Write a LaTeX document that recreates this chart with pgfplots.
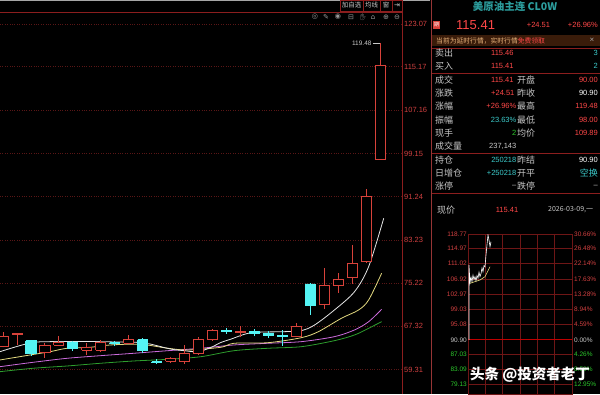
\documentclass[border=0pt]{standalone}
\usepackage{pgfplots}
\pgfplotsset{compat=1.18}
\usepackage{fontspec}
\setmainfont{Liberation Sans}
\newfontfamily\cjk{Noto Sans CJK SC}
\newfontfamily\sym{DejaVu Sans}
\newfontfamily\emoji{Noto Emoji}
\definecolor{gridred}{HTML}{5A1616}
\definecolor{axred}{HTML}{8C1E1E}
\definecolor{lblred}{HTML}{D04040}
\definecolor{upred}{HTML}{D8423A}
\definecolor{dncyan}{HTML}{54F4F4}
\definecolor{mawhite}{HTML}{E6E6E6}
\definecolor{mayellow}{HTML}{E4DA80}
\definecolor{mapurple}{HTML}{CC6CDC}
\definecolor{magreen}{HTML}{2E9E2E}
\definecolor{txtgray}{HTML}{C8C8C8}
\definecolor{valred}{HTML}{FF4848}
\definecolor{valcyan}{HTML}{3CCACA}
\definecolor{valgreen}{HTML}{2CC82C}
\definecolor{titleteal}{HTML}{2C9E9E}
\definecolor{banner}{HTML}{3A1C0A}
\definecolor{bannertxt}{HTML}{E8B47C}
\definecolor{minigrid}{HTML}{6E1616}
\newcommand{\cb}[5]{\addplot[#1] coordinates {(#2,#4) (#3,#4) (#3,#5) (#2,#5) (#2,#4)};}
\begin{document}
\begin{tikzpicture}[x=1pt,y=1pt]
\fill[black] (0,0) rectangle (600,394);
\path[use as bounding box] (0,0) rectangle (600,394);
% top gray line
\draw[gray!70, line width=1.2pt] (0,393.4) -- (430,393.4);
% ---------------- main candlestick axis
\begin{axis}[at={(0,0)}, anchor=south west, scale only axis, width=402pt, height=382pt,
  xmin=-0.215, xmax=28.58, ymin=54.80, ymax=125.28,
  axis line style={draw=none}, xtick=\empty,
  ytick={59.31,67.32,75.22,83.23,91.24,99.15,107.16,115.17,123.07},
  yticklabels={59.31,67.32,75.22,83.23,91.24,99.15,107.16,115.17,123.07},
  yticklabel pos=right, major tick length=0pt,
  ymajorgrids, grid style={gridred, dash pattern=on 0.8pt off 1.6pt, line width=0.6pt},
  yticklabel style={font=\fontsize{7.5}{8}\selectfont, text=lblred, anchor=west, inner xsep=2pt},
  clip mode=individual]
% moving averages
\addplot[magreen, line width=0.8pt, smooth] coordinates {(-0.22,58.92) (2.16,59.55) (4.6,59.97) (6.98,60.47) (9.35,60.89) (11.8,61.2) (14.17,61.68) (16.55,62.79) (18.99,63.24) (21.37,63.53) (23.74,64.64) (25.18,65.69) (26.19,66.93) (27.12,68.14)};
\addplot[mapurple, line width=0.8pt, smooth] coordinates {(-0.22,59.84) (2.16,60.65) (4.6,61.39) (6.98,61.87) (9.35,62.31) (11.8,62.79) (14.17,63.24) (16.55,63.85) (18.99,64.16) (21.37,64.46) (23.74,65.38) (25.18,66.62) (26.19,68.14) (27.12,70.43)};
\addplot[mayellow, line width=0.8pt, smooth] coordinates {(-0.22,61.08) (1.94,62.0) (3.38,62.61) (4.6,63.24) (6.26,63.42) (7.7,63.85) (9.86,63.97) (11.8,63.24) (13.24,62.92) (15.61,63.42) (16.55,64.16) (18.99,64.27) (21.37,65.19) (22.59,66.30) (24.24,68.77) (25.47,70.30) (26.19,72.15) (27.12,77.07)};
\addplot[mawhite, line width=0.8pt, smooth] coordinates {(-0.22,62.61) (1.94,64.22) (3.38,64.46) (6,64.5) (8,64.4) (9.86,64.3) (10.58,64.0) (12.0,63.1) (12.95,62.8) (13.96,62.6) (14.9,63.4) (15.6,64.3) (16.3,64.9) (17.77,66.1) (20.14,66.3) (21.37,66.5) (22.3,67.5) (23.74,70.30) (25.18,73.68) (26.19,78.29) (27.27,87.22)};
% wicks
\addplot[upred, line width=0.8pt, unbounded coords=jump] coordinates {
(0,63.40)(0,66.30)(0,nan)
(1,63.90)(1,66.05)(1,nan)
(3,61.45)(3,64.20)(3,nan)
(4,63.70)(4,65.50)(4,nan)
(6,62.00)(6,64.20)(6,nan)
(7,62.55)(7,64.80)(7,nan)
(9,64.00)(9,65.70)(9,nan)
(12,60.50)(12,61.60)(12,nan)
(13,60.30)(13,63.85)(13,nan)
(14,62.00)(14,65.30)(14,nan)
(15,64.60)(15,66.80)(15,nan)
(17,65.30)(17,67.30)(17,nan)
(21,65.30)(21,67.90)(21,nan)
(23,70.49)(23,78.00)(23,nan)
(24,73.44)(24,77.07)(24,nan)
(25,75.10)(25,82.30)(25,nan)
(26,79.00)(26,92.57)(26,nan)
(27,98.00)(27,119.48)};
\addplot[dncyan, line width=0.8pt, unbounded coords=jump] coordinates {
(2,61.80)(2,64.75)(2,nan)
(5,62.80)(5,64.60)(5,nan)
(8,63.70)(8,64.60)(8,nan)
(10,62.40)(10,65.10)(10,nan)
(11,60.30)(11,61.20)(11,nan)
(16,65.90)(16,66.95)(16,nan)
(18,65.50)(18,66.80)(18,nan)
(19,65.10)(19,66.40)(19,nan)
(20,63.70)(20,66.60)(20,nan)
(22,69.38)(22,75.34)};
% bodies
\pgfplotsset{upb/.style={draw=upred, fill=black, line width=0.8pt}, dnb/.style={draw=dncyan, fill=dncyan, line width=0.8pt}}
\cb{upb}{-0.36}{0.36}{63.53}{65.38}
\cb{upb}{0.64}{1.36}{65.80}{65.95}
\cb{upb}{2.64}{3.36}{62.40}{63.80}
\cb{upb}{3.64}{4.36}{63.85}{64.40}
\cb{upb}{5.64}{6.36}{62.90}{63.45}
\cb{upb}{6.64}{7.36}{62.90}{64.40}
\cb{upb}{8.64}{9.36}{64.20}{64.80}
\cb{upb}{11.64}{12.36}{60.90}{61.45}
\cb{upb}{12.64}{13.36}{60.75}{62.30}
\cb{upb}{13.64}{14.36}{62.30}{64.95}
\cb{upb}{14.64}{15.36}{64.80}{66.60}
\cb{upb}{16.64}{17.36}{66.15}{66.30}
\cb{upb}{20.64}{21.36}{65.40}{67.20}
\cb{upb}{22.64}{23.36}{71.35}{74.79}
\cb{upb}{23.64}{24.36}{74.79}{76.02}
\cb{upb}{24.64}{25.36}{76.34}{78.92}
\cb{upb}{25.64}{26.36}{79.21}{91.20}
\cb{upb}{26.64}{27.36}{98.00}{115.41}
\cb{dnb}{1.64}{2.36}{64.60}{62.30}
\cb{dnb}{4.64}{5.36}{64.40}{63.30}
\cb{dnb}{7.64}{8.36}{64.25}{64.15}
\cb{dnb}{9.64}{10.36}{64.80}{62.90}
\cb{dnb}{10.64}{11.36}{60.75}{60.70}
\cb{dnb}{15.64}{16.36}{66.50}{66.40}
\cb{dnb}{17.64}{18.36}{66.30}{65.95}
\cb{dnb}{18.64}{19.36}{66.00}{65.60}
\cb{dnb}{19.64}{20.36}{65.55}{65.50}
\cb{dnb}{21.64}{22.36}{75.10}{71.10}
% high marker
\addplot[txtgray, line width=0.6pt] coordinates {(26.5,119.48) (27,119.48)};
\node[anchor=east, text=txtgray, font=\fontsize{6.5}{7}\selectfont, inner sep=1pt] at (axis cs:26.48,119.48) {119.48};
\end{axis}
% frame lines
\draw[axred, line width=0.7pt] (0,382) -- (402,382);
\draw[axred, line width=0.7pt] (402,0) -- (402,394);
\draw[axred!90!white, line width=0.8pt] (431,0) -- (431,394);
% toolbar
\begin{scope}[font=\cjk\fontsize{6.5}{7}\selectfont, text=txtgray]
\draw[axred] (340,383) rectangle (363,394); \node at (351.5,388.5) {加自选};
\draw[axred] (363,383) rectangle (380,394); \node at (371.5,388.5) {均线};
\draw[axred] (380,383) rectangle (392,394); \node at (386,388.5) {窗};
\draw[axred] (392,383) rectangle (402,394); \node[font=\sym\fontsize{7}{7}\selectfont] at (397,388.5) {⇥};
\end{scope}
\begin{scope}[font=\sym\fontsize{7}{7}\selectfont, text=gray!80]
\node at (315,377) {◎}; \node at (326,377) {✎}; \node at (338,377) {◉};
\node at (351,377) {⊟}; \node[font=\emoji\fontsize{6.5}{7}\selectfont] at (363,377) {✋}; \node at (373,377) {⌂};
\node at (386,377) {⊕}; \node at (397,377) {⊖};
\end{scope}
% ---------------- right panel
\node[text=titleteal, font=\cjk\bfseries\fontsize{10.5}{11}\selectfont] at (515,387) {美原油主连 CL0W};
\fill[upred] (433,365) rectangle (440,373);
\node[text=white, font=\cjk\fontsize{5}{5}\selectfont, inner sep=0pt] at (436.5,369) {期};
\node[anchor=west, text=valred, font=\fontsize{13}{13}\selectfont, inner sep=0pt] at (456,369) {115.41};
\node[text=valred, font=\fontsize{7.5}{8}\selectfont] at (538.5,369) {+24.51};
\node[anchor=east, text=valred, font=\fontsize{7.5}{8}\selectfont, inner sep=0pt] at (598,369) {+26.96\%};
\fill[banner] (432,348) rectangle (600,359);
\node[anchor=west, inner sep=0pt, font=\cjk\fontsize{6.8}{7}\selectfont] at (436,353.5) {\textcolor{bannertxt}{当前为延时行情，实时行情}\textcolor{valred}{免费领取}};
\node[text=gray!70, font=\fontsize{8}{8}\selectfont] at (592,353.5) {×};
\foreach \yy in {346,321,241,201} {\draw[axred, line width=0.6pt] (432,\yy) -- (600,\yy);}
\begin{scope}[font=\cjk\fontsize{9}{9}\selectfont, text=txtgray]
\node[anchor=west, inner sep=0pt] at (435,341) {卖出};
\node[anchor=west, inner sep=0pt] at (435,328) {买入};
\node[anchor=west, inner sep=0pt] at (435,314) {成交};
\node[anchor=west, inner sep=0pt] at (435,301) {涨跌};
\node[anchor=west, inner sep=0pt] at (435,288) {涨幅};
\node[anchor=west, inner sep=0pt] at (435,274) {振幅};
\node[anchor=west, inner sep=0pt] at (435,261) {现手};
\node[anchor=west, inner sep=0pt] at (435,248) {成交量};
\node[anchor=west, inner sep=0pt] at (435,234) {持仓};
\node[anchor=west, inner sep=0pt] at (435,221) {日增仓};
\node[anchor=west, inner sep=0pt] at (435,208) {涨停};
\node[anchor=west, inner sep=0pt] at (517,314) {开盘};
\node[anchor=west, inner sep=0pt] at (517,301) {昨收};
\node[anchor=west, inner sep=0pt] at (517,288) {最高};
\node[anchor=west, inner sep=0pt] at (517,274) {最低};
\node[anchor=west, inner sep=0pt] at (517,261) {均价};
\node[anchor=west, inner sep=0pt] at (517,234) {昨结};
\node[anchor=west, inner sep=0pt] at (517,221) {开平};
\node[anchor=west, inner sep=0pt] at (517,208) {跌停};
\node[anchor=west, inner sep=0pt] at (437,184) {现价};
\end{scope}
\begin{scope}[font=\fontsize{7.5}{8}\selectfont]
\node[anchor=west, inner sep=0pt, text=valred] at (491,341) {115.46};
\node[anchor=west, inner sep=0pt, text=valred] at (491,328) {115.41};
\node[anchor=west, inner sep=0pt, text=valred] at (491,314) {115.41};
\node[anchor=west, inner sep=0pt, text=valred] at (491,301) {+24.51};
\node[anchor=east, inner sep=0pt, text=valred] at (516.5,288) {+26.96\%};
\node[anchor=east, inner sep=0pt, text=valcyan] at (516.5,274) {23.63\%};
\node[anchor=east, inner sep=0pt, text=valgreen] at (516.5,261) {2};
\node[anchor=east, inner sep=0pt, text=txtgray] at (516.5,248) {237,143};
\node[anchor=east, inner sep=0pt, text=valcyan] at (516.5,234) {250218};
\node[anchor=east, inner sep=0pt, text=valcyan] at (516.5,221) {+250218};
\node[anchor=east, inner sep=0pt, text=txtgray] at (516.5,208) {–};
\node[anchor=east, inner sep=0pt, text=valcyan] at (598,341) {3};
\node[anchor=east, inner sep=0pt, text=valcyan] at (598,328) {2};
\node[anchor=east, inner sep=0pt, text=valred] at (598,314) {90.00};
\node[anchor=east, inner sep=0pt, text=white] at (598,301) {90.90};
\node[anchor=east, inner sep=0pt, text=valred] at (598,288) {119.48};
\node[anchor=east, inner sep=0pt, text=valred] at (598,274) {98.00};
\node[anchor=east, inner sep=0pt, text=valred] at (598,261) {109.89};
\node[anchor=east, inner sep=0pt, text=white] at (598,234) {90.90};
\node[anchor=east, inner sep=0pt, text=valcyan, font=\cjk\fontsize{9}{9}\selectfont] at (598,221) {空换};
\node[anchor=east, inner sep=0pt, text=txtgray] at (598,208) {–};
\node[inner sep=0pt, text=valred] at (507,184) {115.41};
\node[anchor=west, inner sep=0pt, text=txtgray, font=\cjk\fontsize{7}{7}\selectfont] at (548,184) {2026-03-09,一};
\end{scope}
% ---------------- intraday mini chart
\begin{axis}[at={(468,0)}, anchor=south west, scale only axis, width=104pt, height=159.7pt,
  xmin=0, xmax=104, ymin=76.66, ymax=118.77,
  axis line style={draw=minigrid, line width=0.7pt},
  xtick={17.33,34.67,52,69.33,86.67}, xticklabels={},
  ytick={79.13,83.09,87.03,95.08,99.03,102.97,106.92,111.02,114.97},
  yticklabels={}, major tick length=0pt,
  grid=major, grid style={minigrid, line width=0.6pt},
  clip mode=individual]
\addplot[red!75!black, line width=1pt] coordinates {(0,90.90) (104,90.90)};
\addplot[white, line width=0.6pt] coordinates {(1,90.9) (1,110.7) (2,106.0) (3,107.5) (4,106.3) (5,108.0) (6,106.8) (7,107.6) (8,106.5) (9,107.9) (10,107.2) (11,108.8) (12,107.6) (13,108.4) (14,109.9) (15,108.9) (16,110.5) (17,110.2) (18,113.3) (19,116.0) (20,118.6) (21,117.2) (22,115.5) (23,116.8)};
\addplot[mayellow, line width=0.6pt] coordinates {(2,105.85) (7,106.3) (12,106.72) (17,107.59) (22,110.23)};
\begin{scope}[font=\fontsize{6.5}{7}\selectfont, inner sep=0pt]
\node[anchor=east, text=lblred] at (axis cs:-1,118.77) {118.77};
\node[anchor=east, text=lblred] at (axis cs:-1,114.97) {114.97};
\node[anchor=east, text=lblred] at (axis cs:-1,111.02) {111.02};
\node[anchor=east, text=lblred] at (axis cs:-1,106.92) {106.92};
\node[anchor=east, text=lblred] at (axis cs:-1,102.97) {102.97};
\node[anchor=east, text=lblred] at (axis cs:-1,99.03) {99.03};
\node[anchor=east, text=lblred] at (axis cs:-1,95.08) {95.08};
\node[anchor=east, text=txtgray] at (axis cs:-1,90.90) {90.90};
\node[anchor=east, text=valgreen] at (axis cs:-1,87.03) {87.03};
\node[anchor=east, text=valgreen] at (axis cs:-1,83.09) {83.09};
\node[anchor=east, text=valgreen] at (axis cs:-1,79.13) {79.13};
\node[anchor=west, text=lblred] at (axis cs:106,118.77) {30.66\%};
\node[anchor=west, text=lblred] at (axis cs:106,114.97) {26.48\%};
\node[anchor=west, text=lblred] at (axis cs:106,111.02) {22.14\%};
\node[anchor=west, text=lblred] at (axis cs:106,106.92) {17.63\%};
\node[anchor=west, text=lblred] at (axis cs:106,102.97) {13.28\%};
\node[anchor=west, text=lblred] at (axis cs:106,99.03) {8.94\%};
\node[anchor=west, text=lblred] at (axis cs:106,95.08) {4.59\%};
\node[anchor=west, text=txtgray] at (axis cs:106,90.90) {0.00\%};
\node[anchor=west, text=valgreen] at (axis cs:106,87.03) {4.26\%};
\node[anchor=west, text=valgreen] at (axis cs:106,83.09) {8.59\%};
\node[anchor=west, text=valgreen] at (axis cs:106,79.13) {12.95\%};
\end{scope}
\end{axis}
% watermark
\node[text=white, font=\cjk\bfseries\fontsize{14.5}{15}\selectfont] at (530,19) {头条 @投资者老丁};
\end{tikzpicture}
\end{document}
